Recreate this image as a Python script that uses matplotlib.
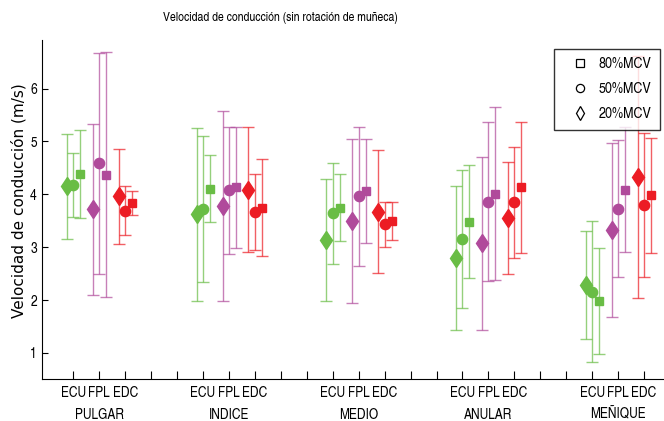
import numpy as np
import matplotlib
matplotlib.use("Agg")
import matplotlib.pyplot as plt
from matplotlib.lines import Line2D

plt.rcParams['font.family'] = ['TeX Gyre Heros Cn', 'Liberation Sans', 'DejaVu Sans']

GROUPS = ["PULGAR", "INDICE", "MEDIO", "ANULAR", "MEÑIQUE"]
MUSCLES = ["ECU", "FPL", "EDC"]
COLORS = ["#69bd45", "#b04a9b", "#ec1c24"]

# values per muscle (ECU, FPL, EDC), one per finger
mean20 = {"ECU": [4.15, 3.62, 3.14, 2.80, 2.29],
          "FPL": [3.72, 3.78, 3.50, 3.07, 3.33],
          "EDC": [3.96, 4.09, 3.67, 3.55, 4.33]}
err20 = {"ECU": [1.00, 1.63, 1.15, 1.36, 1.02],
         "FPL": [1.62, 1.80, 1.55, 1.64, 1.65],
         "EDC": [0.90, 1.18, 1.16, 1.06, 2.29]}
mean50 = {"ECU": [4.18, 3.72, 3.64, 3.15, 2.16],
          "FPL": [4.59, 4.08, 3.96, 3.86, 3.73],
          "EDC": [3.69, 3.67, 3.43, 3.85, 3.80]}
err50 = {"ECU": [0.61, 1.38, 0.96, 1.31, 1.33],
         "FPL": [2.09, 1.20, 1.31, 1.50, 1.30],
         "EDC": [0.46, 0.72, 0.42, 1.05, 1.36]}
mean80 = {"ECU": [4.38, 4.11, 3.75, 3.48, 1.98],
          "FPL": [4.37, 4.13, 4.06, 4.01, 4.09],
          "EDC": [3.83, 3.75, 3.50, 4.13, 3.98]}
err80 = {"ECU": [0.83, 0.64, 0.64, 1.07, 1.00],
         "FPL": [2.32, 1.14, 0.99, 1.64, 1.19],
         "EDC": [0.23, 0.91, 0.36, 1.24, 1.09]}

LEVELS = [("20%MCV", mean20, err20, "d", 9.5, -0.25),
          ("50%MCV", mean50, err50, "o", 7.4, 0.0),
          ("80%MCV", mean80, err80, "s", 6.4, 0.27)]

fig = plt.figure(figsize=(6.64, 4.21), dpi=100)
ax = fig.add_axes([0.0628, 0.099, 0.9372, 0.806])

group_x = np.arange(len(GROUPS)) * 5
for m, muscle in enumerate(MUSCLES):
    for name, means, errs, marker, ms, off in LEVELS:
        x = group_x + 1 + m + off
        ax.errorbar(x, means[muscle], yerr=errs[muscle], fmt="none",
                    ecolor=COLORS[m], elinewidth=1, capsize=4.3,
                    capthick=1, alpha=0.7, zorder=2)
        ax.plot(x, means[muscle], linestyle="none", marker=marker, ms=ms,
                color=COLORS[m], markeredgecolor=COLORS[m], zorder=3)

ax.set_xlim(-0.22, 23.77)
ax.set_ylim(0.5, 6.92)
ticks = np.arange(1, 24)
ax.set_xticks(ticks)
ax.set_xticklabels([MUSCLES[(t - 1) % 5] if (t - 1) % 5 < 3 else "" for t in ticks],
                   fontsize=10.5)
ax.set_yticks([1, 2, 3, 4, 5, 6])
ax.tick_params(axis="x", direction="in", length=5.5, width=0.8, pad=5)
ax.tick_params(axis="y", direction="in", length=4, width=0.8, labelsize=10.5)
for s in ["top", "right"]:
    ax.spines[s].set_visible(False)

for g, name in enumerate(GROUPS):
    ax.text(group_x[g] + 2, -0.105, name, transform=ax.get_xaxis_transform(),
            ha="center", va="center", fontsize=10.5)

ax.set_ylabel("Velocidad de conducción (m/s)", fontsize=11, family="DejaVu Sans")
ax.yaxis.set_label_coords(-0.025, 0.528)
fig.text(280 / 664, 1 - 18 / 421, "Velocidad de conducción (sin rotación de muñeca)",
         ha="center", va="center", fontsize=9.2)

handles = [Line2D([], [], linestyle="none", marker=mk, ms=ms * 0.8,
                  markerfacecolor="white", markeredgecolor="black", markeredgewidth=0.9)
           for _, _, _, mk, ms, _ in LEVELS]
labels = [lv[0] for lv in LEVELS]
leg = ax.legend(handles[::-1], labels[::-1], loc="upper right",
                bbox_to_anchor=(0.9936, 0.9735), borderaxespad=0,
                fancybox=False, edgecolor="black", fontsize=11,
                handletextpad=0.1, labelspacing=0.72, borderpad=0.55,
                handlelength=2.3)
leg.set_zorder(5)

fig.savefig("out.png", dpi=100)
